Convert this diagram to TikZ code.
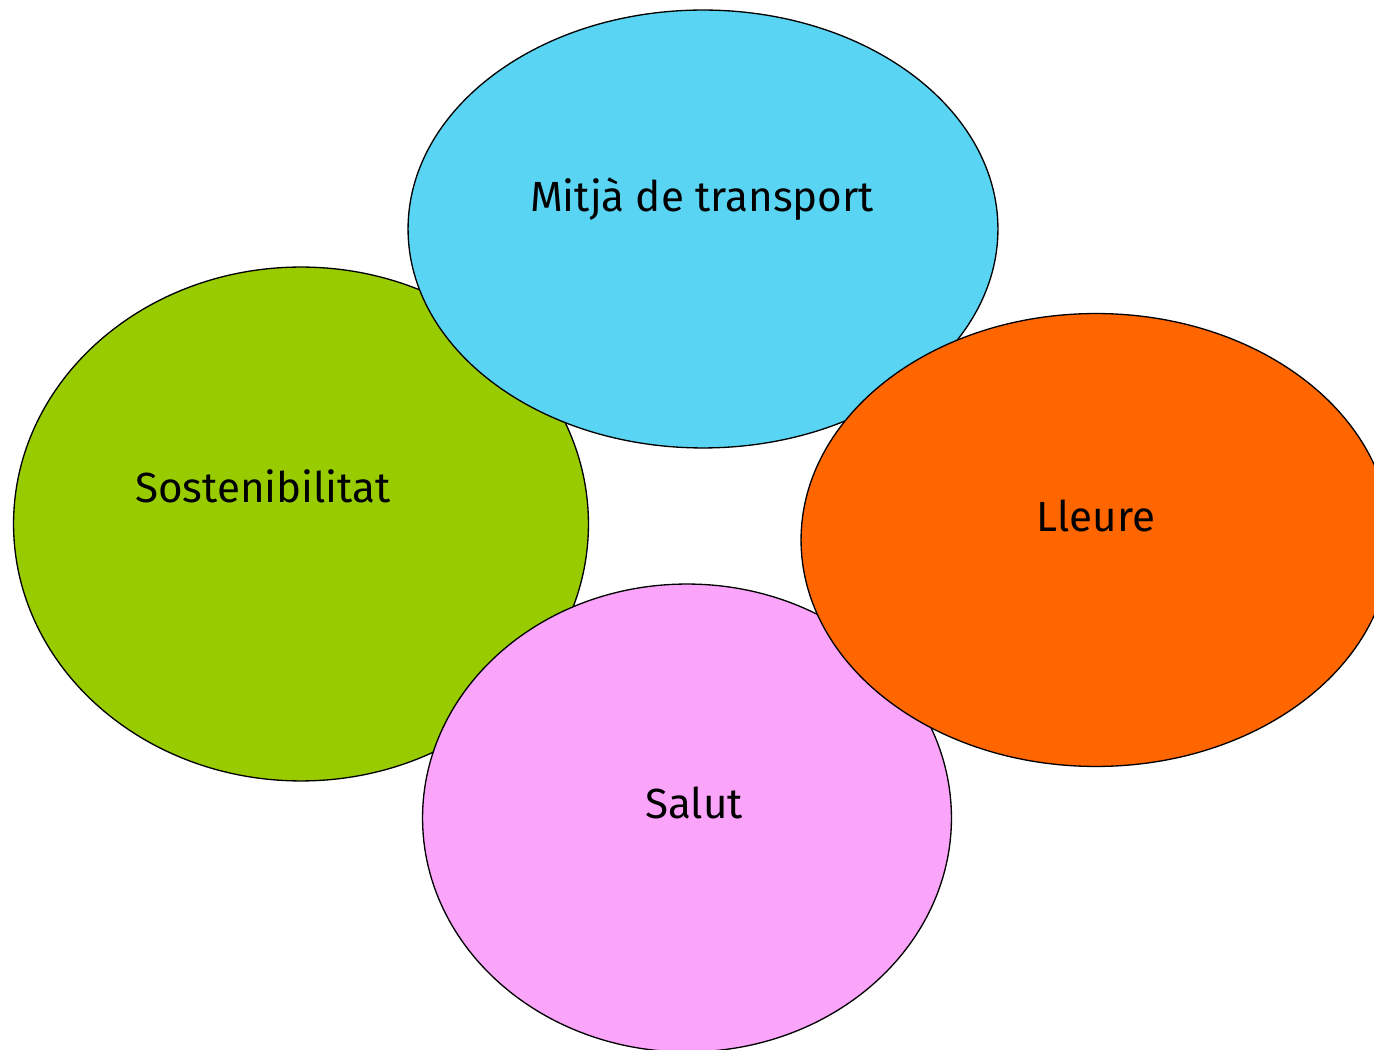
\documentclass[tikz,border=0pt]{standalone}
\usepackage{fontspec}
\setmainfont{Fira Sans}
\usetikzlibrary{shapes.geometric}
\definecolor{skyblue}{HTML}{59D5F3}
\definecolor{leafgreen}{HTML}{99CC00}
\definecolor{deeporange}{HTML}{FF6600}
\definecolor{softpink}{HTML}{FAA5FA}
\begin{document}
\begin{tikzpicture}[x=0.02cm,y=-0.02cm,
    bubble/.style={ellipse,draw=black,line width=0.75pt,inner sep=0pt},
    caption/.style={font=\fontsize{24}{28}\selectfont,inner sep=0pt}]
   \useasboundingbox (0,0) rectangle (1374,1050);
   \clip (0,0) rectangle (1374,1050);
   % bubbles, back to front
   \node[bubble,fill=leafgreen,minimum width=11.5cm,minimum height=10.28cm] (green) at (301,524) {};
   \node[bubble,fill=skyblue,minimum width=11.8cm,minimum height=8.76cm] (blue) at (703,229) {};
   \node[bubble,fill=softpink,minimum width=10.58cm,minimum height=9.36cm] (pink) at (687,818) {};
   \node[bubble,fill=deeporange,minimum width=11.8cm,minimum height=9.06cm] (orange) at (1096,540) {};
   % captions
   \node[caption] (transport) at (702,199) {Mitjà de transport};
   \node[caption] (sosten) at (263,486) {Sostenibilitat};
   \node[caption] (lleure) at (1096,516) {Lleure};
   \node[caption] (salut) at (694,803) {Salut};
\end{tikzpicture}
\end{document}
